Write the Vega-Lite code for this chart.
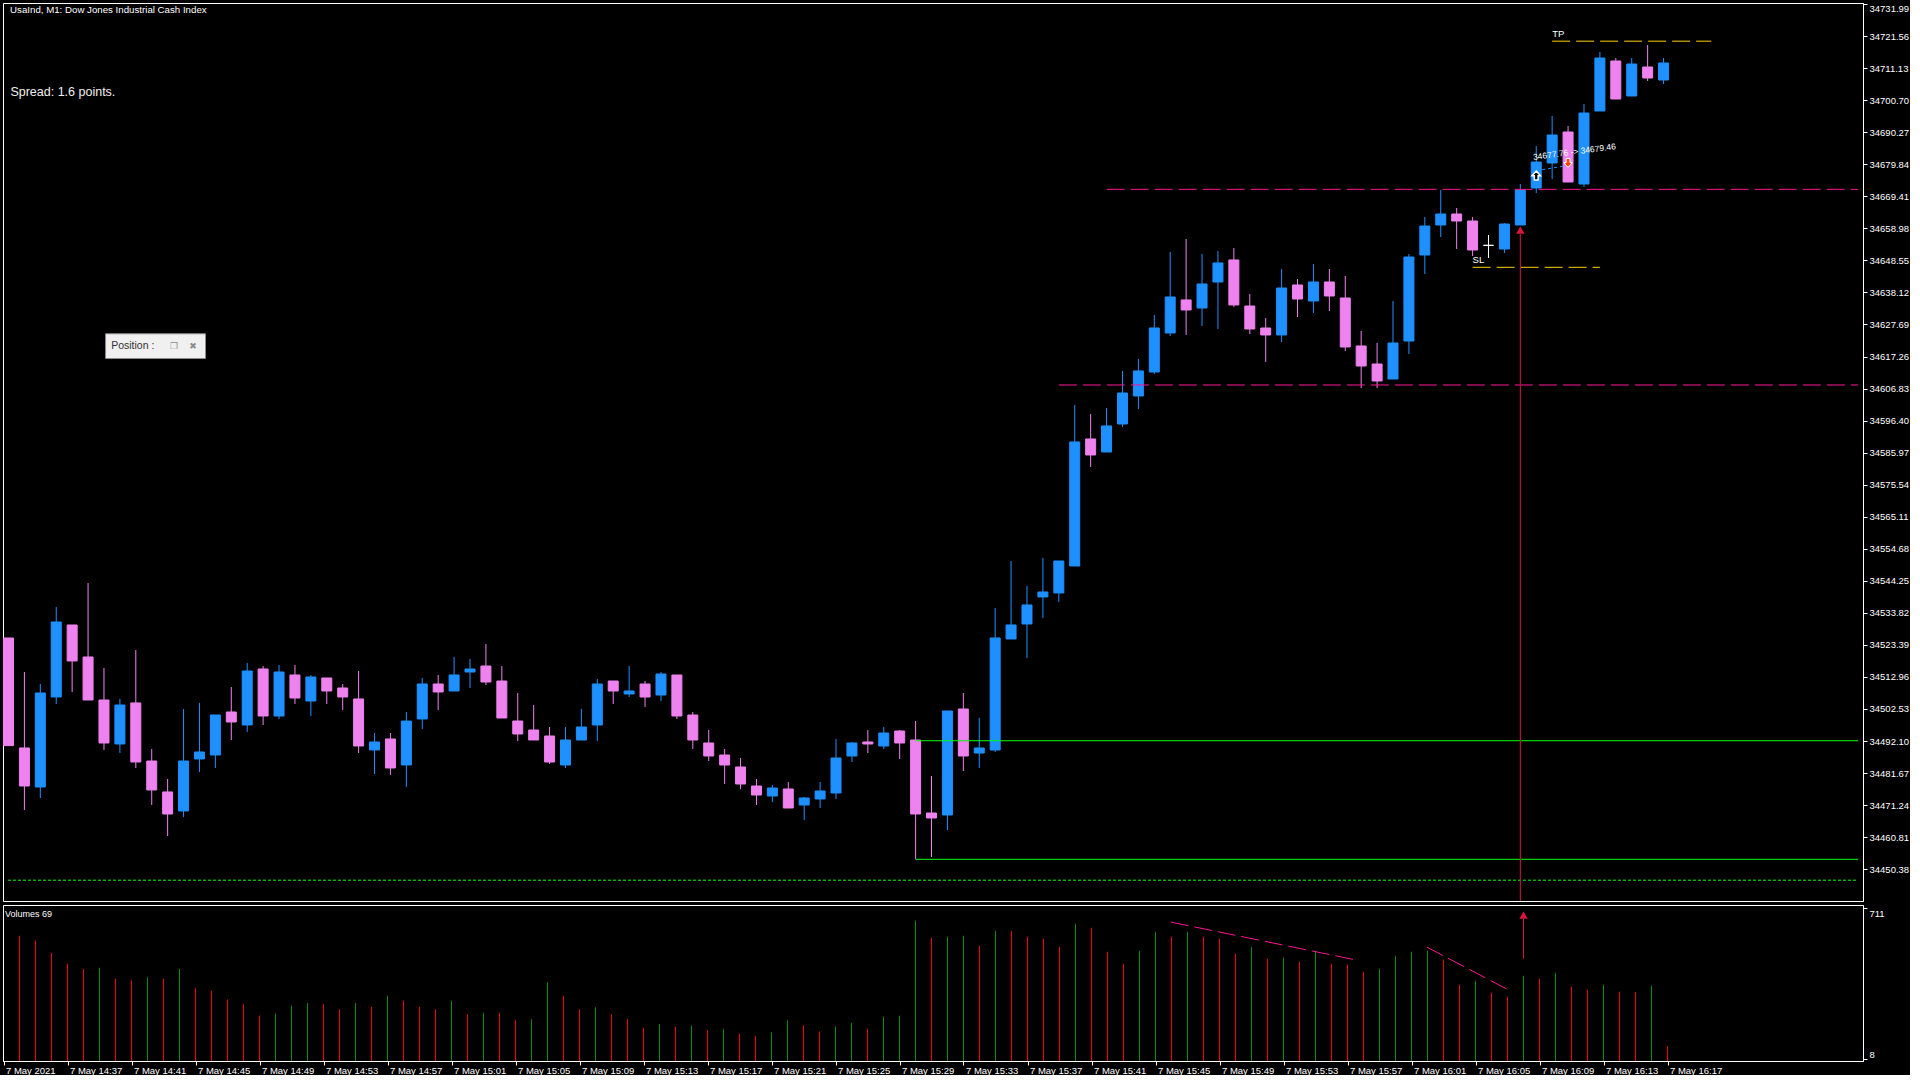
{
  "$schema": "https://vega.github.io/schema/vega-lite/v6.json",
  "background": "#000000",
  "padding": {"left": 2, "top": 2, "right": 0, "bottom": 0},
  "spacing": 2,
  "resolve": {"scale": {"color": "independent", "fill": "independent", "stroke": "independent"}},
  "config": {
    "view": {"stroke": "#FFFFFF", "strokeWidth": 1},
    "axis": {"labelColor": "#FFFFFF", "labelFont": "Liberation Sans", "labelFontSize": 9.5, "tickColor": "#FFFFFF", "domainColor": "#FFFFFF", "grid": false, "tickSize": 4, "labelPadding": 2, "labelOverlap": false, "labelBound": false, "labelFlush": false},
    "text": {"font": "Liberation Sans"}
  },
  "datasets": {
    "candles": [
      {"i":0,"o":34525.64,"h":34525.64,"l":34490.6,"c":34490.6,"d":"bear"},
      {"i":1,"o":34489.84,"h":34514.57,"l":34469.66,"c":34477.47,"d":"bear"},
      {"i":2,"o":34477.14,"h":34510.67,"l":34473.56,"c":34507.74,"d":"bull"},
      {"i":3,"o":34506.44,"h":34535.73,"l":34504.16,"c":34530.85,"d":"bull"},
      {"i":4,"o":34529.87,"h":34529.87,"l":34508.06,"c":34518.16,"d":"bear"},
      {"i":5,"o":34519.46,"h":34543.54,"l":34505.46,"c":34505.46,"d":"bear"},
      {"i":6,"o":34505.46,"h":34515.88,"l":34489.19,"c":34491.46,"d":"bear"},
      {"i":7,"o":34491.14,"h":34505.79,"l":34488.21,"c":34503.83,"d":"bull"},
      {"i":8,"o":34504.49,"h":34521.73,"l":34483.33,"c":34485.28,"d":"bear"},
      {"i":9,"o":34485.6,"h":34489.51,"l":34471.28,"c":34476.17,"d":"bear"},
      {"i":10,"o":34475.52,"h":34479.75,"l":34461.19,"c":34468.35,"d":"bear"},
      {"i":11,"o":34469.33,"h":34502.53,"l":34467.38,"c":34485.6,"d":"bull"},
      {"i":12,"o":34486.26,"h":34504.49,"l":34482.03,"c":34488.53,"d":"bull"},
      {"i":13,"o":34487.56,"h":34500.58,"l":34483.33,"c":34500.58,"d":"bull"},
      {"i":14,"o":34501.55,"h":34509.69,"l":34492.44,"c":34498.3,"d":"bear"},
      {"i":15,"o":34497.32,"h":34517.5,"l":34495.04,"c":34514.9,"d":"bull"},
      {"i":16,"o":34515.55,"h":34516.53,"l":34497.32,"c":34500.25,"d":"bear"},
      {"i":17,"o":34500.25,"h":34516.85,"l":34499.28,"c":34514.57,"d":"bull"},
      {"i":18,"o":34513.6,"h":34516.85,"l":34504.16,"c":34506.11,"d":"bear"},
      {"i":19,"o":34505.13,"h":34513.6,"l":34500.25,"c":34512.95,"d":"bull"},
      {"i":20,"o":34512.62,"h":34512.62,"l":34504.16,"c":34508.39,"d":"bear"},
      {"i":21,"o":34509.37,"h":34510.67,"l":34502.2,"c":34506.44,"d":"bear"},
      {"i":22,"o":34505.79,"h":34514.9,"l":34488.21,"c":34490.49,"d":"bear"},
      {"i":23,"o":34489.19,"h":34494.72,"l":34481.37,"c":34491.79,"d":"bull"},
      {"i":24,"o":34492.77,"h":34494.72,"l":34481.05,"c":34483.33,"d":"bear"},
      {"i":25,"o":34484.3,"h":34501.55,"l":34477.14,"c":34498.6,"d":"bull"},
      {"i":26,"o":34499.28,"h":34512.62,"l":34496.02,"c":34510.67,"d":"bull"},
      {"i":27,"o":34510.67,"h":34513.6,"l":34502.2,"c":34508.06,"d":"bear"},
      {"i":28,"o":34508.39,"h":34519.46,"l":34508.39,"c":34513.6,"d":"bull"},
      {"i":29,"o":34514.57,"h":34518.8,"l":34509.36,"c":34515.55,"d":"bull"},
      {"i":30,"o":34516.52,"h":34523.68,"l":34510.34,"c":34511.31,"d":"bear"},
      {"i":31,"o":34511.64,"h":34516.52,"l":34499.6,"c":34499.6,"d":"bear"},
      {"i":32,"o":34498.62,"h":34507.73,"l":34492.11,"c":34494.39,"d":"bear"},
      {"i":33,"o":34495.69,"h":34503.83,"l":34492.44,"c":34492.44,"d":"bear"},
      {"i":34,"o":34493.74,"h":34496.67,"l":34484.62,"c":34485.27,"d":"bear"},
      {"i":35,"o":34484.3,"h":34496.67,"l":34483.32,"c":34492.44,"d":"bull"},
      {"i":36,"o":34492.44,"h":34502.53,"l":34492.44,"c":34496.67,"d":"bull"},
      {"i":37,"o":34497.32,"h":34512.29,"l":34492.11,"c":34510.66,"d":"bull"},
      {"i":38,"o":34511.64,"h":34511.64,"l":34504.15,"c":34508.39,"d":"bear"},
      {"i":39,"o":34507.41,"h":34516.52,"l":34506.43,"c":34508.39,"d":"bull"},
      {"i":40,"o":34510.66,"h":34511.64,"l":34503.18,"c":34506.43,"d":"bear"},
      {"i":41,"o":34507.08,"h":34514.57,"l":34505.13,"c":34513.92,"d":"bull"},
      {"i":42,"o":34513.59,"h":34513.59,"l":34499.27,"c":34500.25,"d":"bear"},
      {"i":43,"o":34500.57,"h":34501.55,"l":34489.51,"c":34492.44,"d":"bear"},
      {"i":44,"o":34491.46,"h":34495.69,"l":34485.6,"c":34487.23,"d":"bear"},
      {"i":45,"o":34487.55,"h":34489.51,"l":34478.11,"c":34484.3,"d":"bear"},
      {"i":46,"o":34483.65,"h":34486.58,"l":34476.49,"c":34478.11,"d":"bear"},
      {"i":47,"o":34477.46,"h":34479.74,"l":34471.28,"c":34474.53,"d":"bear"},
      {"i":48,"o":34474.21,"h":34477.79,"l":34472.25,"c":34476.81,"d":"bull"},
      {"i":49,"o":34476.49,"h":34478.76,"l":34470.3,"c":34470.3,"d":"bear"},
      {"i":50,"o":34471.28,"h":34473.88,"l":34466.4,"c":34473.56,"d":"bull"},
      {"i":51,"o":34473.23,"h":34478.76,"l":34470.3,"c":34475.84,"d":"bull"},
      {"i":52,"o":34475.18,"h":34492.76,"l":34473.23,"c":34486.58,"d":"bull"},
      {"i":53,"o":34487.23,"h":34491.79,"l":34485.27,"c":34491.46,"d":"bull"},
      {"i":54,"o":34491.79,"h":34495.69,"l":34488.2,"c":34491.13,"d":"bear"},
      {"i":55,"o":34490.48,"h":34496.67,"l":34489.51,"c":34494.71,"d":"bull"},
      {"i":56,"o":34495.36,"h":34495.69,"l":34486.25,"c":34491.46,"d":"bear"},
      {"i":57,"o":34492.44,"h":34498.62,"l":34453.59,"c":34468.35,"d":"bear"},
      {"i":58,"o":34468.67,"h":34480.72,"l":34454.35,"c":34467.05,"d":"bear"},
      {"i":59,"o":34468.02,"h":34501.88,"l":34463.14,"c":34501.88,"d":"bull"},
      {"i":60,"o":34502.53,"h":34507.73,"l":34482.34,"c":34487.23,"d":"bear"},
      {"i":61,"o":34488.2,"h":34499.6,"l":34483.32,"c":34489.83,"d":"bull"},
      {"i":62,"o":34489.18,"h":34535.41,"l":34488.53,"c":34525.65,"d":"bull"},
      {"i":63,"o":34525.32,"h":34550.71,"l":34525.32,"c":34529.88,"d":"bull"},
      {"i":64,"o":34530.2,"h":34542.57,"l":34519.13,"c":34536.39,"d":"bull"},
      {"i":65,"o":34539.0,"h":34551.69,"l":34532.16,"c":34540.62,"d":"bull"},
      {"i":66,"o":34540.3,"h":34550.71,"l":34537.37,"c":34550.71,"d":"bull"},
      {"i":67,"o":34549.08,"h":34601.49,"l":34549.08,"c":34589.45,"d":"bull"},
      {"i":68,"o":34590.42,"h":34598.56,"l":34581.31,"c":34585.21,"d":"bear"},
      {"i":69,"o":34586.19,"h":34600.51,"l":34586.19,"c":34594.66,"d":"bull"},
      {"i":70,"o":34595.3,"h":34612.56,"l":34594.33,"c":34605.39,"d":"bull"},
      {"i":71,"o":34604.42,"h":34616.46,"l":34600.19,"c":34612.56,"d":"bull"},
      {"i":72,"o":34612.23,"h":34630.78,"l":34611.58,"c":34626.55,"d":"bull"},
      {"i":73,"o":34624.92,"h":34651.29,"l":34623.95,"c":34636.64,"d":"bull"},
      {"i":74,"o":34635.67,"h":34655.52,"l":34624.27,"c":34632.41,"d":"bear"},
      {"i":75,"o":34633.06,"h":34650.64,"l":34627.2,"c":34640.87,"d":"bull"},
      {"i":76,"o":34641.52,"h":34651.62,"l":34626.23,"c":34647.71,"d":"bull"},
      {"i":77,"o":34648.69,"h":34652.59,"l":34633.39,"c":34634.04,"d":"bear"},
      {"i":78,"o":34633.7,"h":34637.61,"l":34624.59,"c":34626.22,"d":"bear"},
      {"i":79,"o":34626.54,"h":34629.8,"l":34615.47,"c":34624.27,"d":"bear"},
      {"i":80,"o":34624.27,"h":34645.75,"l":34621.99,"c":34639.56,"d":"bull"},
      {"i":81,"o":34640.54,"h":34642.49,"l":34630.12,"c":34635.98,"d":"bear"},
      {"i":82,"o":34635.33,"h":34647.37,"l":34631.43,"c":34641.52,"d":"bull"},
      {"i":83,"o":34641.52,"h":34645.75,"l":34632.08,"c":34636.96,"d":"bear"},
      {"i":84,"o":34636.31,"h":34643.47,"l":34619.05,"c":34620.36,"d":"bear"},
      {"i":85,"o":34620.69,"h":34625.57,"l":34607.01,"c":34614.17,"d":"bear"},
      {"i":86,"o":34614.82,"h":34621.66,"l":34607.01,"c":34609.29,"d":"bear"},
      {"i":87,"o":34609.94,"h":34635.33,"l":34609.94,"c":34621.66,"d":"bull"},
      {"i":88,"o":34622.31,"h":34650.63,"l":34618.08,"c":34649.65,"d":"bull"},
      {"i":89,"o":34650.3,"h":34662.67,"l":34644.12,"c":34659.74,"d":"bull"},
      {"i":90,"o":34660.07,"h":34671.46,"l":34656.16,"c":34663.65,"d":"bull"},
      {"i":91,"o":34663.65,"h":34665.6,"l":34652.26,"c":34661.37,"d":"bear"},
      {"i":92,"o":34661.37,"h":34662.67,"l":34649.98,"c":34651.93,"d":"bear"},
      {"i":93,"o":34653.45,"h":34656.81,"l":34649.33,"c":34653.45,"d":"doji"},
      {"i":94,"o":34652.26,"h":34660.72,"l":34650.95,"c":34660.39,"d":"bull"},
      {"i":95,"o":34660.07,"h":34673.42,"l":34660.07,"c":34671.46,"d":"bull"},
      {"i":96,"o":34672.11,"h":34685.78,"l":34670.48,"c":34680.57,"d":"bull"},
      {"i":97,"o":34680.25,"h":34695.55,"l":34675.04,"c":34689.36,"d":"bull"},
      {"i":98,"o":34690.34,"h":34692.29,"l":34674.06,"c":34674.06,"d":"bear"},
      {"i":99,"o":34673.41,"h":34699.45,"l":34672.44,"c":34696.52,"d":"bull"},
      {"i":100,"o":34697.18,"h":34716.38,"l":34697.18,"c":34714.43,"d":"bull"},
      {"i":101,"o":34713.45,"h":34714.43,"l":34701.08,"c":34701.08,"d":"bear"},
      {"i":102,"o":34702.06,"h":34714.43,"l":34702.06,"c":34712.47,"d":"bull"},
      {"i":103,"o":34711.5,"h":34718.66,"l":34706.94,"c":34707.92,"d":"bear"},
      {"i":104,"o":34707.27,"h":34714.43,"l":34705.96,"c":34712.8,"d":"bull"}
    ],
    "vol": [
      {"i":1,"v":584,"d":"down"},{"i":2,"v":561,"d":"down"},{"i":3,"v":504,"d":"down"},
      {"i":4,"v":452,"d":"down"},{"i":5,"v":429,"d":"down"},{"i":6,"v":435,"d":"up"},{"i":7,"v":384,"d":"down"},
      {"i":8,"v":375,"d":"down"},{"i":9,"v":390,"d":"up"},{"i":10,"v":384,"d":"down"},{"i":11,"v":429,"d":"up"},
      {"i":12,"v":338,"d":"down"},{"i":13,"v":327,"d":"down"},{"i":14,"v":287,"d":"down"},{"i":15,"v":264,"d":"down"},
      {"i":16,"v":212,"d":"down"},{"i":17,"v":220,"d":"up"},{"i":18,"v":258,"d":"up"},{"i":19,"v":270,"d":"up"},
      {"i":20,"v":265,"d":"down"},{"i":21,"v":241,"d":"down"},{"i":22,"v":270,"d":"up"},{"i":23,"v":252,"d":"down"},
      {"i":24,"v":304,"d":"up"},{"i":25,"v":281,"d":"down"},{"i":26,"v":252,"d":"down"},{"i":27,"v":241,"d":"down"},
      {"i":28,"v":281,"d":"up"},{"i":29,"v":218,"d":"down"},{"i":30,"v":225,"d":"up"},{"i":31,"v":224,"d":"down"},
      {"i":32,"v":190,"d":"down"},{"i":33,"v":195,"d":"up"},{"i":34,"v":367,"d":"up"},{"i":35,"v":304,"d":"down"},
      {"i":36,"v":241,"d":"down"},{"i":37,"v":250,"d":"up"},{"i":38,"v":218,"d":"down"},{"i":39,"v":195,"d":"down"},
      {"i":40,"v":155,"d":"down"},{"i":41,"v":172,"d":"up"},{"i":42,"v":160,"d":"down"},{"i":43,"v":165,"d":"up"},
      {"i":44,"v":144,"d":"down"},{"i":45,"v":150,"d":"up"},{"i":46,"v":127,"d":"down"},{"i":47,"v":116,"d":"down"},
      {"i":48,"v":133,"d":"up"},{"i":49,"v":190,"d":"up"},{"i":50,"v":167,"d":"down"},{"i":51,"v":138,"d":"down"},
      {"i":52,"v":161,"d":"up"},{"i":53,"v":178,"d":"up"},{"i":54,"v":150,"d":"down"},{"i":55,"v":206,"d":"up"},
      {"i":56,"v":211,"d":"up"},{"i":57,"v":654,"d":"up"},{"i":58,"v":574,"d":"down"},{"i":59,"v":579,"d":"up"},
      {"i":60,"v":584,"d":"up"},{"i":61,"v":537,"d":"down"},{"i":62,"v":607,"d":"up"},{"i":63,"v":605,"d":"down"},
      {"i":64,"v":579,"d":"down"},{"i":65,"v":570,"d":"down"},{"i":66,"v":532,"d":"down"},{"i":67,"v":640,"d":"up"},
      {"i":68,"v":621,"d":"down"},{"i":69,"v":509,"d":"down"},{"i":70,"v":453,"d":"down"},{"i":71,"v":514,"d":"up"},
      {"i":72,"v":602,"d":"up"},{"i":73,"v":579,"d":"down"},{"i":74,"v":602,"d":"up"},{"i":75,"v":579,"d":"down"},
      {"i":76,"v":570,"d":"down"},{"i":77,"v":500,"d":"down"},{"i":78,"v":532,"d":"up"},{"i":79,"v":476,"d":"down"},
      {"i":80,"v":481,"d":"up"},{"i":81,"v":462,"d":"down"},{"i":82,"v":514,"d":"up"},{"i":83,"v":453,"d":"down"},
      {"i":84,"v":449,"d":"down"},{"i":85,"v":416,"d":"down"},{"i":86,"v":430,"d":"up"},{"i":87,"v":490,"d":"up"},
      {"i":88,"v":509,"d":"up"},{"i":89,"v":514,"d":"up"},{"i":90,"v":472,"d":"down"},{"i":91,"v":355,"d":"down"},
      {"i":92,"v":374,"d":"up"},{"i":93,"v":318,"d":"down"},{"i":94,"v":299,"d":"down"},{"i":95,"v":397,"d":"up"},
      {"i":96,"v":383,"d":"down"},{"i":97,"v":411,"d":"up"},{"i":98,"v":346,"d":"down"},{"i":99,"v":332,"d":"down"},
      {"i":100,"v":355,"d":"up"},{"i":101,"v":323,"d":"down"},{"i":102,"v":321,"d":"down"},{"i":103,"v":351,"d":"up"},
      {"i":104,"v":69,"d":"down"}
    ]
  },
  "vconcat": [
    {
      "width": 1860,
      "height": 898,
      "layer": [
        {
          "data": {"name": "candles"},
          "mark": {"type": "rule", "strokeWidth": 1},
          "encoding": {
            "x": {"field": "i", "type": "quantitative", "scale": {"domain": [-0.03125, 116.21875], "nice": false, "zero": false}, "axis": null},
            "y": {"field": "l", "type": "quantitative", "title": null, "scale": {"domain": [34440.03, 34732.33], "nice": false, "zero": false},
                  "axis": {"orient": "right", "format": ".2f", "tickCount": 60, "labelOverlap": false, "labelFlush": false, "labelBound": false,
                           "labelBaseline": {"condition": {"test": "datum.value > 34730", "value": "top"}, "value": "middle"},
                           "labelOffset": {"condition": {"test": "datum.value > 34730", "value": -1}, "value": 0},
                           "values": [34450.38,34460.81,34471.24,34481.67,34492.10,34502.53,34512.96,34523.39,34533.82,34544.25,34554.68,34565.11,34575.54,34585.97,34596.40,34606.83,34617.26,34627.69,34638.12,34648.55,34658.98,34669.41,34679.84,34690.27,34700.70,34711.13,34721.56,34731.99]}},
            "y2": {"field": "h"},
            "color": {"field": "d", "type": "nominal", "scale": {"domain": ["bull","bear","doji"], "range": ["#1E90FF","#EE82EE","#FFFFFF"]}, "legend": null}
          }
        },
        {
          "data": {"name": "candles"},
          "mark": {"type": "bar", "size": 10, "strokeWidth": 1},
          "encoding": {
            "x": {"field": "i", "type": "quantitative", "axis": null},
            "y": {"field": "o", "type": "quantitative", "title": null},
            "y2": {"field": "c"},
            "fill": {"field": "d", "type": "nominal", "scale": {"domain": ["bull","bear","doji"], "range": ["#1E90FF","#EE82EE","#FFFFFF"]}, "legend": null},
            "stroke": {"field": "d", "type": "nominal", "scale": {"domain": ["bull","bear","doji"], "range": ["#1E90FF","#EE82EE","#FFFFFF"]}, "legend": null}
          }
        },
        {
          "data": {"values": [{"x1": 69, "x2": 116.21875, "p": 34671.67}, {"x1": 66, "x2": 116.21875, "p": 34608.0}]},
          "mark": {"type": "rule", "color": "#FF1493", "strokeWidth": 1, "strokeDash": [18, 6]},
          "encoding": {
            "x": {"field": "x1", "type": "quantitative", "axis": null},
            "x2": {"field": "x2"},
            "y": {"field": "p", "type": "quantitative", "title": null}
          }
        },
        {
          "data": {"values": [{"x1": 57, "x2": 116.21875, "p": 34492.2}, {"x1": 57, "x2": 116.21875, "p": 34453.6}]},
          "mark": {"type": "rule", "color": "#00FF00", "strokeWidth": 1},
          "encoding": {
            "x": {"field": "x1", "type": "quantitative", "axis": null},
            "x2": {"field": "x2"},
            "y": {"field": "p", "type": "quantitative", "title": null}
          }
        },
        {
          "data": {"values": [{"x1": -0.03125, "x2": 116.21875, "p": 34446.8}]},
          "mark": {"type": "rule", "color": "#00FF00", "strokeWidth": 1, "strokeDash": [3, 2]},
          "encoding": {
            "x": {"field": "x1", "type": "quantitative", "axis": null},
            "x2": {"field": "x2"},
            "y": {"field": "p", "type": "quantitative", "title": null}
          }
        },
        {
          "data": {"values": [{"x1": 97, "x2": 107, "p": 34719.9}, {"x1": 92, "x2": 100, "p": 34646.3}]},
          "mark": {"type": "rule", "color": "#FFD000", "strokeWidth": 1, "strokeDash": [18, 6]},
          "encoding": {
            "x": {"field": "x1", "type": "quantitative", "axis": null},
            "x2": {"field": "x2"},
            "y": {"field": "p", "type": "quantitative", "title": null}
          }
        },
        {
          "data": {"values": [{"i": 97, "p": 34720.6, "t": "TP"}, {"i": 92, "p": 34647.2, "t": "SL"}]},
          "mark": {"type": "text", "color": "#FFFFFF", "fontSize": 9.5, "align": "left", "baseline": "bottom"},
          "encoding": {
            "x": {"field": "i", "type": "quantitative", "axis": null},
            "y": {"field": "p", "type": "quantitative", "title": null},
            "text": {"field": "t"}
          }
        },
        {
          "data": {"values": [{"i": 95, "p1": 34657.1, "p2": 34440.03}]},
          "mark": {"type": "rule", "color": "#DC143C", "strokeWidth": 1},
          "encoding": {
            "x": {"field": "i", "type": "quantitative", "axis": null},
            "y": {"field": "p1", "type": "quantitative", "title": null},
            "y2": {"field": "p2"}
          }
        },
        {
          "data": {"values": [{"i": 95, "p": 34658.4}]},
          "mark": {"type": "point", "shape": "triangle-up", "size": 70, "filled": true, "color": "#DC143C", "opacity": 1},
          "encoding": {
            "x": {"field": "i", "type": "quantitative", "axis": null},
            "y": {"field": "p", "type": "quantitative", "title": null}
          }
        },
        {
          "data": {"values": [{"x1": 96, "x2": 98, "p1": 34677.76, "p2": 34679.46}]},
          "mark": {"type": "rule", "color": "#1E90FF", "strokeWidth": 1, "strokeDash": [3, 3]},
          "encoding": {
            "x": {"field": "x1", "type": "quantitative", "axis": null},
            "x2": {"field": "x2"},
            "y": {"field": "p1", "type": "quantitative", "title": null},
            "y2": {"field": "p2"}
          }
        },
        {
          "data": {"values": [{"i": 96, "p": 34676.1}]},
          "mark": {"type": "point", "shape": "M0,-1L0.9,0L0.4,0L0.4,0.9L-0.4,0.9L-0.4,0L-0.9,0Z", "size": 90, "filled": true, "fill": "#000000", "stroke": "#FFFFFF", "strokeWidth": 1.5, "opacity": 1},
          "encoding": {
            "x": {"field": "i", "type": "quantitative", "axis": null},
            "y": {"field": "p", "type": "quantitative", "title": null}
          }
        },
        {
          "data": {"values": [{"i": 98, "p": 34680.35}]},
          "mark": {"type": "point", "shape": "M0,1L0.9,0L0.4,0L0.4,-0.9L-0.4,-0.9L-0.4,0L-0.9,0Z", "size": 90, "filled": true, "fill": "#FF4500", "stroke": "#FFFFFF", "strokeWidth": 1, "opacity": 1},
          "encoding": {
            "x": {"field": "i", "type": "quantitative", "axis": null},
            "y": {"field": "p", "type": "quantitative", "title": null}
          }
        },
        {
          "data": {"values": [{"i": 95.84, "p": 34680.58, "t": "34677.76 -> 34679.46"}]},
          "mark": {"type": "text", "color": "#FFFFFF", "fontSize": 8.5, "align": "left", "baseline": "bottom", "angle": -7.5},
          "encoding": {
            "x": {"field": "i", "type": "quantitative", "axis": null},
            "y": {"field": "p", "type": "quantitative", "title": null},
            "text": {"field": "t"}
          }
        },
        {
          "data": {"values": [{"i": 0.1, "p": 34729.9, "t": "UsaInd, M1:  Dow Jones Industrial Cash Index"}]},
          "mark": {"type": "text", "color": "#FFFFFF", "fontSize": 9.7, "align": "left", "baseline": "middle"},
          "encoding": {
            "x": {"field": "i", "type": "quantitative", "axis": null},
            "y": {"field": "p", "type": "quantitative", "title": null},
            "text": {"field": "t"}
          }
        },
        {
          "data": {"values": [{"i": 0.12, "p": 34703.37, "t": "Spread: 1.6 points."}]},
          "mark": {"type": "text", "color": "#F0F0F0", "fontSize": 12.5, "align": "left", "baseline": "middle"},
          "encoding": {
            "x": {"field": "i", "type": "quantitative", "axis": null},
            "y": {"field": "p", "type": "quantitative", "title": null},
            "text": {"field": "t"}
          }
        },
        {
          "data": {"values": [{"x1": 6.1, "x2": 12.38, "p1": 34624.66, "p2": 34616.6}]},
          "mark": {"type": "rect", "fill": "#F0F0F0", "stroke": "#8C8C8C", "strokeWidth": 1},
          "encoding": {
            "x": {"field": "x1", "type": "quantitative", "axis": null},
            "x2": {"field": "x2"},
            "y": {"field": "p1", "type": "quantitative", "title": null},
            "y2": {"field": "p2"}
          }
        },
        {
          "data": {"values": [{"i": 6.45, "p": 34620.6, "t": "Position :"}]},
          "mark": {"type": "text", "color": "#333333", "fontSize": 10.5, "align": "left", "baseline": "middle"},
          "encoding": {
            "x": {"field": "i", "type": "quantitative", "axis": null},
            "y": {"field": "p", "type": "quantitative", "title": null},
            "text": {"field": "t"}
          }
        },
        {
          "data": {"values": [{"i": 10.4, "p": 34620.6, "t": "❐"}, {"i": 11.6, "p": 34620.6, "t": "✖"}]},
          "mark": {"type": "text", "color": "#8C8C8C", "fontSize": 9, "font": "DejaVu Sans", "align": "center", "baseline": "middle"},
          "encoding": {
            "x": {"field": "i", "type": "quantitative", "axis": null},
            "y": {"field": "p", "type": "quantitative", "title": null},
            "text": {"field": "t"}
          }
        }
      ]
    },
    {
      "width": 1860,
      "height": 156,
      "layer": [
        {
          "data": {"name": "vol"},
          "mark": {"type": "rule", "strokeWidth": 1},
          "encoding": {
            "x": {"field": "i", "type": "quantitative", "title": null, "scale": {"domain": [-0.03125, 116.21875], "nice": false, "zero": false},
                  "axis": {"values": [0,4,8,12,16,20,24,28,32,36,40,44,48,52,56,60,64,68,72,76,80,84,88,92,96,100,104], "tickCount": 60, "labelAlign": "left", "labelOffset": 2, "labelPadding": 0, "labelOverlap": false,
                           "labelExpr": "datum.value == 0 ? '7 May 2021' : '7 May ' + (14 + floor((33 + datum.value) / 60)) + ':' + pad(toString((33 + datum.value) % 60), 2, '0', 'left')"}},
            "y": {"field": "v", "type": "quantitative", "title": null, "scale": {"domain": [0, 727], "nice": false, "zero": true},
                  "axis": {"orient": "right", "values": [8, 711], "format": "d", "labelOverlap": false, "labelBaseline": {"condition": {"test": "datum.value > 100", "value": "top"}, "value": "bottom"}}},
            "y2": {"datum": 0},
            "color": {"field": "d", "type": "nominal", "scale": {"domain": ["up", "down"], "range": ["#009000", "#FF0000"]}, "legend": null}
          }
        },
        {
          "data": {"values": [{"x1": 72.95, "x2": 84.56, "v1": 647.5, "v2": 470.3}, {"x1": 88.96, "x2": 94.0, "v1": 530.9, "v2": 333.6}]},
          "mark": {"type": "rule", "color": "#FF1493", "strokeWidth": 1, "strokeDash": [18, 6]},
          "encoding": {
            "x": {"field": "x1", "type": "quantitative", "title": null},
            "x2": {"field": "x2"},
            "y": {"field": "v1", "type": "quantitative", "title": null},
            "y2": {"field": "v2"}
          }
        },
        {
          "data": {"values": [{"i": 95, "v1": 662, "v2": 476.5}]},
          "mark": {"type": "rule", "color": "#DC143C", "strokeWidth": 1},
          "encoding": {
            "x": {"field": "i", "type": "quantitative", "title": null},
            "y": {"field": "v1", "type": "quantitative", "title": null},
            "y2": {"field": "v2"}
          }
        },
        {
          "data": {"values": [{"i": 95, "v": 680}]},
          "mark": {"type": "point", "shape": "triangle-up", "size": 70, "filled": true, "color": "#DC143C", "opacity": 1},
          "encoding": {
            "x": {"field": "i", "type": "quantitative", "title": null},
            "y": {"field": "v", "type": "quantitative", "title": null}
          }
        },
        {
          "data": {"values": [{"i": 0.1, "v": 686, "t": "Volumes 69"}]},
          "mark": {"type": "text", "color": "#FFFFFF", "fontSize": 9, "align": "left", "baseline": "middle"},
          "encoding": {
            "x": {"field": "i", "type": "quantitative", "title": null},
            "y": {"field": "v", "type": "quantitative", "title": null},
            "text": {"field": "t"}
          }
        }
      ]
    }
  ]
}
